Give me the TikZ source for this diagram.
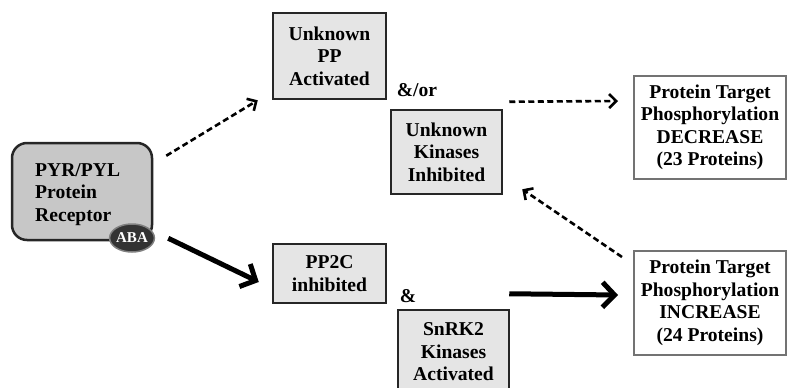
\documentclass[tikz,border=0pt]{standalone}
\usepackage{fontspec}
\setmainfont{Liberation Serif}
\usetikzlibrary{arrows.meta,shapes.geometric}
\begin{document}
\begin{tikzpicture}[x=1pt,y=-1pt,
 lbl/.style={font=\bfseries\fontsize{19.6}{22.5}\selectfont, align=center, inner sep=0pt},
 gbox/.style={lbl, draw=black!85, line width=2.5pt, fill=black!10, rectangle},
 wbox/.style={lbl, draw=black!55, line width=2pt, fill=white, rectangle},
 pyrbox/.style={draw=black!85, line width=2.5pt, fill=black!22, rounded corners=15pt, rectangle},
 abanode/.style={ellipse, draw=black!50, line width=1.5pt, fill=black!80, text=white,
   font=\bfseries\fontsize{15}{15}\selectfont, minimum width=42pt, minimum height=28pt, inner sep=0pt},
 dasharrow/.style={line width=2.6pt, dash pattern=on 6pt off 3.5pt, -{Straight Barb[length=7pt,width=14pt]}},
 thickarrow/.style={line width=5pt, -{Straight Barb[length=12pt,width=25pt]}}]
\useasboundingbox (0,0) rectangle (788,388);
\clip (0,0) rectangle (788,388);
% receptor
\node[pyrbox, minimum width=140pt, minimum height=97pt] (pyr) at (82,191.5) {};
\node[lbl, anchor=west, align=left] (pyrt) at (35,194.5) {PYR/PYL\\Protein\\Receptor};
\node[abanode] (aba) at (132,238) {ABA};
% middle boxes
\node[gbox, minimum width=113pt, minimum height=86pt] (upp) at (329.5,56) {Unknown\\PP\\Activated};
\node[gbox, minimum width=111pt, minimum height=84pt] (ukin) at (446.5,152) {Unknown\\Kinases\\Inhibited};
\node[gbox, minimum width=113pt, minimum height=59pt] (pp2c) at (329.5,273.5) {PP2C\\inhibited};
\node[gbox, minimum width=111pt, minimum height=84pt] (snrk) at (453.5,352) {SnRK2\\Kinases\\Activated};
\node[lbl] (andor) at (417,90) {\&/or};
\node[lbl] (and) at (408,296) {\&};
% targets
\node[wbox, minimum width=152pt, minimum height=103pt] (dec) at (710,127.5) {Protein Target\\Phosphorylation\\DECREASE\\(23 Proteins)};
\node[wbox, minimum width=152pt, minimum height=104pt] (inc) at (710,303) {Protein Target\\Phosphorylation\\INCREASE\\(24 Proteins)};
% connectors
\draw[dasharrow] ([shift={(13,14)}]pyr.north east) -- ([shift={(-14,0)}]upp.south west);
\draw[thickarrow] ([shift={(15,-3)}]pyr.south east) -- ([shift={(-13,8.5)}]pp2c.west);
\draw[dasharrow] ([shift={(6,-7)}]ukin.north east) -- ([shift={(-15,26)}]dec.north west);
\draw[dasharrow] ([shift={(-11,7)}]inc.north west) -- ([shift={(19,-6)}]ukin.south east);
\draw[thickarrow] ([shift={(-1,-15)}]snrk.north east) -- ([shift={(-15,-8)}]inc.west);
\end{tikzpicture}
\end{document}
